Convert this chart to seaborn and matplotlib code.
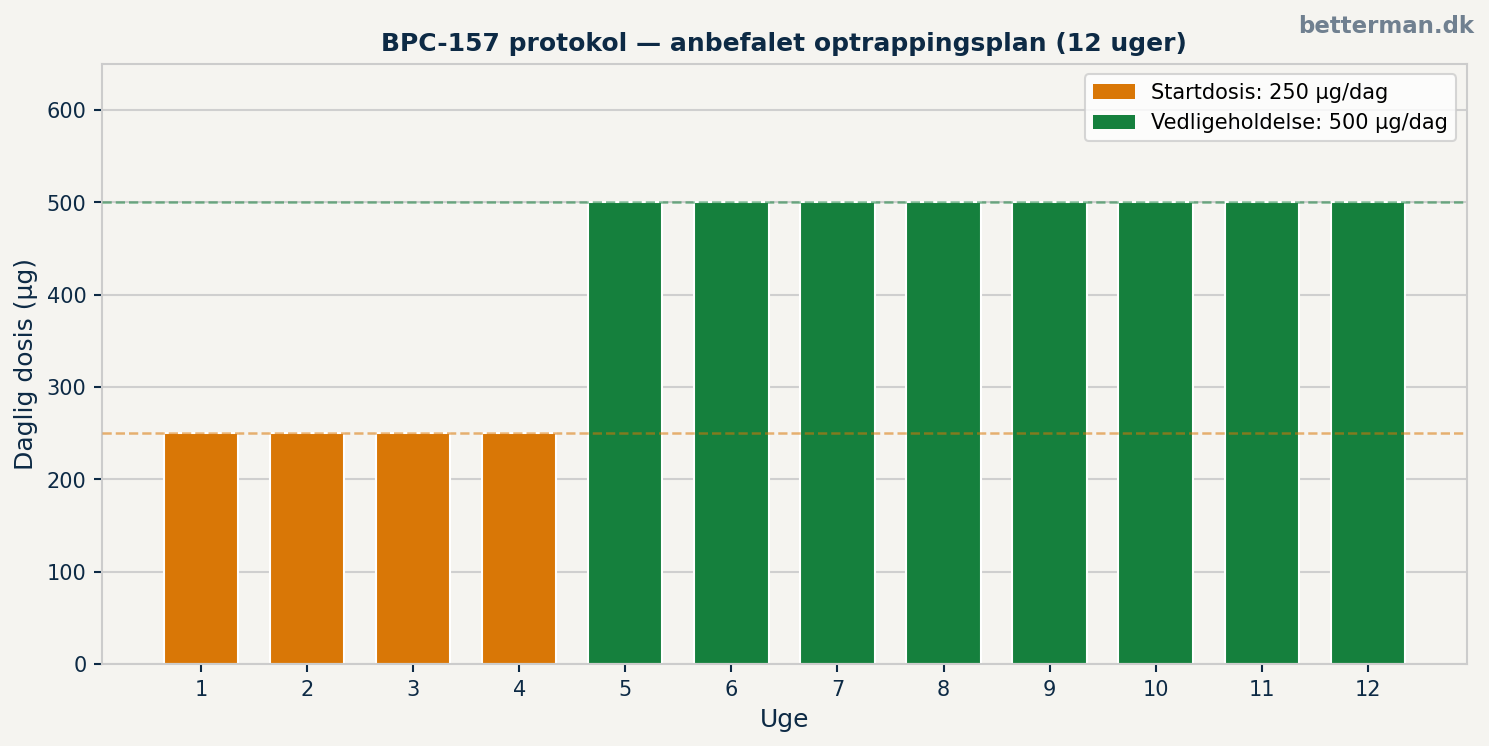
import pandas as pd
import numpy as np
import matplotlib
matplotlib.use('Agg')
import matplotlib.pyplot as plt
import seaborn as sns

# data
uger = [1, 2, 3, 4, 5, 6, 7, 8, 9, 10, 11, 12]
dosis = [250, 250, 250, 250, 500, 500, 500, 500, 500, 500, 500, 500]
fase = ['Startdosis: 250 µg/dag'] * 4 + ['Vedligeholdelse: 500 µg/dag'] * 8
ref_linjer = [250, 500]

BG = '#f5f4f0'
NAVY = '#0d2a45'
ORANGE = '#d97706'
GREEN = '#15803d'

sns.set_theme(style='whitegrid')
plt.rcParams['font.family'] = ['DejaVu Sans']

df = pd.DataFrame({'Uge': uger, 'Dosis': dosis, 'Fase': fase})

fig, ax = plt.subplots(figsize=(9.928, 4.975), dpi=150)
fig.patch.set_facecolor(BG)
ax.set_facecolor(BG)

sns.barplot(data=df, x='Uge', y='Dosis', hue='Fase',
            palette=[ORANGE, GREEN], dodge=False, native_scale=True,
            width=0.7, edgecolor='white', linewidth=1, saturation=1, ax=ax)

for y, c in zip(ref_linjer, [ORANGE, GREEN]):
    ax.axhline(y, color=c, linestyle='--', linewidth=1.2, alpha=0.55, zorder=3)

ax.set_ylim(0, 650)
ax.set_xticks(uger)
ax.set_xticklabels([str(u) for u in uger])
ax.set_yticks([0, 100, 200, 300, 400, 500, 600])
ax.tick_params(colors=NAVY, labelsize=10, length=4, width=1, bottom=True, left=True)
ax.grid(axis='y', color='#cfcfcf', linewidth=1)
ax.grid(axis='x', visible=False)
for s in ax.spines.values():
    s.set_color('#cccccc')
    s.set_linewidth(1)

ax.set_xlabel('Uge', fontsize=12, color=NAVY)
ax.set_ylabel('Daglig dosis (µg)', fontsize=12, color=NAVY)
ax.set_title('BPC-157 protokol — anbefalet optrappingsplan (12 uger)',
             fontsize=12, fontweight='bold', color=NAVY, pad=6.5)

leg = ax.legend(loc='upper right', fontsize=10, frameon=True, title=None,
                labelcolor='black')
leg.get_frame().set_facecolor('white')
leg.get_frame().set_edgecolor('#cccccc')
for h in leg.legend_handles:
    h.set_edgecolor('none')
    h.set_linewidth(0)

fig.text(0.99, 0.98, 'betterman.dk', ha='right', va='top', fontsize=11,
         fontweight='bold', color='#708090')

fig.subplots_adjust(left=0.0685, right=0.985, top=0.914, bottom=0.11)
fig.savefig('out.png', dpi=150, facecolor=BG)
